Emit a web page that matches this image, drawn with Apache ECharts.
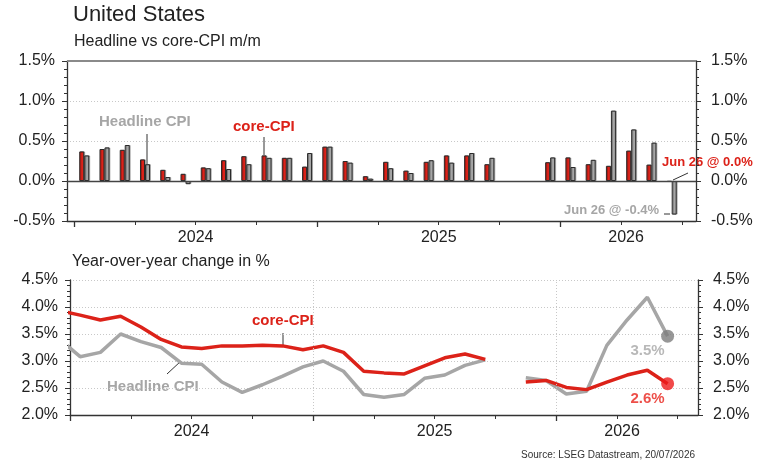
<!DOCTYPE html>
<html>
<head>
<meta charset="utf-8">
<script src="https://cdn.jsdelivr.net/npm/echarts@6/dist/echarts.min.js"></script>
<style>
html, body { margin: 0; padding: 0; background: #fff; }
#chart { width: 767px; height: 475px; }
</style>
</head>
<body>
<div id="chart"></div>
<script>
// months are counted from Jan 2024 (index 0) to Jun 2026 (index 29)
const years = ['2024', '2025', '2026'];
const monthCount = 30;

// m/m change in %, Jan 2024 .. Jun 2026 (Oct/Nov 2025 not published)
const coreMoM = [
    0.37, 0.40, 0.39, 0.27, 0.14, 0.09, 0.17, 0.26, 0.31, 0.32, 0.29, 0.18,
    0.43, 0.25, 0.06, 0.24, 0.13, 0.24, 0.32, 0.32, 0.21, null, null, 0.235,
    0.295, 0.21, 0.19, 0.38, 0.205, -0.01
];
const headlineMoM = [
    0.32, 0.42, 0.45, 0.21, 0.05, -0.04, 0.16, 0.15, 0.21, 0.29, 0.29, 0.35,
    0.43, 0.23, 0.03, 0.16, 0.10, 0.26, 0.23, 0.35, 0.29, null, null, 0.295,
    0.175, 0.265, 0.88, 0.645, 0.48, -0.42
];

// y/y change in %, Dec 2023 .. Jun 2026 (Oct 2025 missing)
const yoyStart = -1;
const coreYoY = [
    3.93,
    3.85, 3.76, 3.83, 3.63, 3.40, 3.26, 3.23, 3.28, 3.28, 3.29, 3.28, 3.21,
    3.28, 3.16, 2.81, 2.78, 2.76, 2.91, 3.06, 3.13, 3.03, null, 2.61, 2.64,
    2.51, 2.47, 2.61, 2.74, 2.83, 2.58
];
const headlineYoY = [
    3.40,
    3.08, 3.16, 3.50, 3.36, 3.25, 2.96, 2.94, 2.61, 2.42, 2.56, 2.72, 2.89,
    3.00, 2.81, 2.38, 2.33, 2.38, 2.68, 2.74, 2.92, 3.02, null, 2.69, 2.64,
    2.39, 2.44, 3.29, 3.76, 4.18, 3.46
];

const RED = '#dc2219';
const GREY = '#a6a6a6';
const INK = '#222';
const FONT = '"Liberation Sans", Arial, sans-serif';

const quarterTicks = [];
for (let m = 0; m <= monthCount; m += 3) quarterTicks.push(m);
const yearTicks = years.map((y, i) => i * 12);
const yearCentres = years.map((y, i) => {
    const start = i * 12;
    const end = Math.min(start + 12, monthCount + 0.5);
    return (start + end) / 2;
});
const yearAt = v => {
    const i = yearCentres.findIndex(c => Math.abs(c - v) < 0.01);
    return i < 0 ? '' : years[i];
};

function monthAxes(grid, min, max) {
    return [{
        type: 'value', gridIndex: grid, min: min, max: max, position: 'bottom',
        axisLine: { show: true, onZero: false, lineStyle: { color: '#333', width: 1.3 } },
        axisTick: { show: true, customValues: quarterTicks, length: 4, lineStyle: { color: '#333' } },
        axisLabel: { customValues: yearCentres, formatter: yearAt, color: INK, fontSize: 16, fontFamily: FONT, margin: 9 },
        splitLine: { show: false }
    }, {
        // longer ticks at the year boundaries
        type: 'value', gridIndex: grid, min: min, max: max, position: 'bottom',
        axisLine: { show: false, onZero: false },
        axisTick: { show: true, customValues: yearTicks, length: 6, lineStyle: { color: '#333', width: 1.3 } },
        axisLabel: { show: false },
        splitLine: { show: false }
    }];
}

function pctAxis(grid, pos, min, max) {
    return {
        type: 'value', gridIndex: grid, position: pos, min: min, max: max, interval: 0.5,
        axisLine: { show: true, onZero: false, lineStyle: { color: '#333', width: 1.3 } },
        axisTick: { show: true, length: 5, lineStyle: { color: '#333' } },
        minorTick: { show: true, splitNumber: 5, length: 3, lineStyle: { color: '#333' } },
        axisLabel: {
            formatter: v => v.toFixed(1) + '%', color: INK, fontSize: 16, fontFamily: FONT,
            margin: pos === 'left' ? 12 : 15
        },
        splitLine: { show: pos === 'left', lineStyle: { color: '#c8c8c8', type: [1, 2], width: 1 } }
    };
}

const toPoints = (arr, start) => arr.map((v, i) => [start + i + 0.5, v]);
const last = arr => [arr.length - 1 + yoyStart + 0.5, arr[arr.length - 1]];

const barStyle = fill => ({
    color: fill, borderColor: '#2a2a2a', borderWidth: 1,
    shadowColor: 'rgba(0,0,0,0.25)', shadowOffsetX: 1, shadowOffsetY: 0
});

const text = (str, x, y, font, fill, align) => ({
    type: 'text', x: x, y: y, silent: true,
    style: { text: str, font: font, fill: fill, align: align || 'left', verticalAlign: 'top' }
});
const leader = (x1, y1, x2, y2) => ({
    type: 'line', silent: true,
    shape: { x1: x1, y1: y1, x2: x2, y2: y2 },
    style: { stroke: '#333', lineWidth: 1 }
});

const chart = echarts.init(document.getElementById('chart'));
chart.setOption({
    animation: false,
    grid: [
        { left: 67, right: 71, top: 61, height: 160 },
        { left: 70, right: 69, top: 280, height: 135 }
    ],
    xAxis: [].concat(monthAxes(0, -0.35, 30.7), monthAxes(1, 0, 31)),
    yAxis: [
        pctAxis(0, 'left', -0.5, 1.5), pctAxis(0, 'right', -0.5, 1.5),
        pctAxis(1, 'left', 2.0, 4.5), pctAxis(1, 'right', 2.0, 4.5)
    ],
    series: [
        {
            name: 'core-CPI m/m', type: 'bar', xAxisIndex: 0, yAxisIndex: 0,
            data: toPoints(coreMoM, 0), barWidth: 5, barGap: '0%',
            itemStyle: barStyle(RED),
            markLine: {
                silent: true, symbol: 'none', label: { show: false },
                data: [
                    { yAxis: 1.5, lineStyle: { color: '#8a8a8a', width: 2, type: 'solid' } },
                    { yAxis: 0, lineStyle: { color: '#444', width: 1.3, type: 'solid' } }
                ]
            }
        },
        {
            name: 'Headline CPI m/m', type: 'bar', xAxisIndex: 0, yAxisIndex: 0,
            data: toPoints(headlineMoM, 0), barWidth: 5, barGap: '0%',
            itemStyle: barStyle(GREY)
        },
        {
            name: 'Headline CPI y/y', type: 'line', xAxisIndex: 2, yAxisIndex: 2,
            data: toPoints(headlineYoY, yoyStart), symbol: 'none',
            lineStyle: { color: GREY, width: 3.5 },
            markLine: {
                silent: true, symbol: 'none', label: { show: false },
                lineStyle: { color: '#c8c8c8', type: [1, 2], width: 1 },
                data: yearTicks.slice(1).map(m => ({ xAxis: m }))
            }
        },
        {
            name: 'core-CPI y/y', type: 'line', xAxisIndex: 2, yAxisIndex: 2,
            data: toPoints(coreYoY, yoyStart), symbol: 'none',
            lineStyle: { color: RED, width: 3.5 }
        },
        {
            type: 'scatter', xAxisIndex: 2, yAxisIndex: 2, symbolSize: 13, z: 5,
            data: [
                { value: last(headlineYoY), itemStyle: { color: '#7d7d7d' },
                  label: { color: GREY } },
                { value: last(coreYoY), itemStyle: { color: '#ee1b1b' },
                  label: { color: '#e8231b' } }
            ],
            label: {
                show: true, position: 'bottom', distance: 1, offset: [-20, 0],
                formatter: p => p.value[1].toFixed(1) + '%',
                fontSize: 15, fontWeight: 'bold', fontFamily: FONT
            }
        }
    ],
    graphic: [
        text('United States', 73, 4, '22px ' + FONT, INK),
        text('Headline vs core-CPI m/m', 74, 34, '16px ' + FONT, INK),
        text('Year-over-year change in %', 72, 254, '16px ' + FONT, INK),
        text('Headline CPI', 99, 114, 'bold 15px ' + FONT, GREY),
        leader(147, 134, 147, 164),
        text('core-CPI', 233, 119, 'bold 15px ' + FONT, RED),
        leader(264, 137, 264, 155),
        text('Jun 26 @ 0.0%', 662, 156, 'bold 13px ' + FONT, RED),
        leader(673, 180, 688, 173),
        text('Jun 26 @ -0.4%', 564, 204, 'bold 13px ' + FONT, GREY),
        leader(664, 214, 670, 214),
        text('core-CPI', 252, 313, 'bold 15px ' + FONT, RED),
        leader(283, 333, 283, 345),
        text('Headline CPI', 107, 379, 'bold 15px ' + FONT, GREY),
        leader(167, 374, 181, 361),
        text('Source: LSEG Datastream, 20/07/2026', 695, 450, '10px ' + FONT, '#333', 'right')
    ]
});
</script>
</body>
</html>
